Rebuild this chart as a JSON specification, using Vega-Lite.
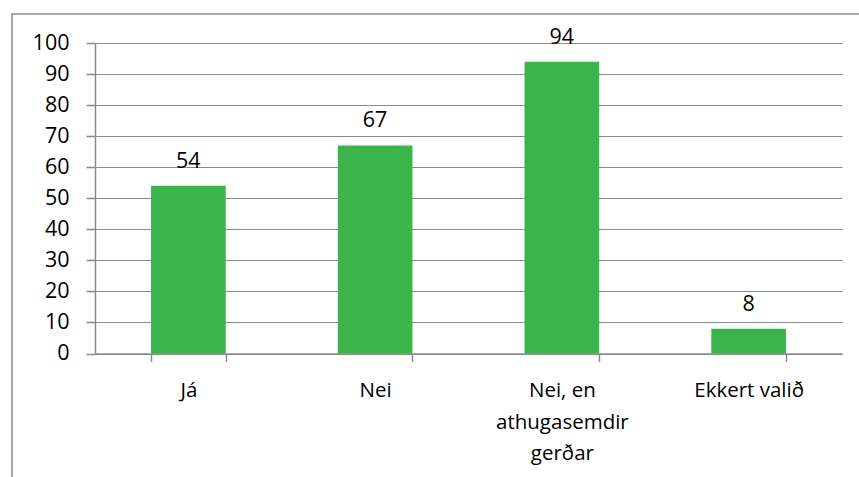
{
  "$schema": "https://vega.github.io/schema/vega-lite/v6.json",
  "autosize": "none",
  "padding": {"left": 12, "top": 14, "right": 0, "bottom": 0},
  "width": 870,
  "height": 480,
  "config": {
    "view": {"stroke": "#8a8a8a", "strokeWidth": 1.5},
    "font": "Open Sans",
    "axis": {
      "domainColor": "#8a8a8a",
      "domainWidth": 1.5,
      "tickColor": "#8a8a8a",
      "tickWidth": 1.5,
      "gridColor": "#8a8a8a",
      "gridWidth": 1,
      "labelColor": "#000000",
      "labelFont": "Open Sans",
      "labelFontSize": 20
    }
  },
  "data": {
    "values": [
      {"answer": "Já", "count": 54},
      {"answer": "Nei", "count": 67},
      {"answer": "Nei, en athugasemdir gerðar", "count": 94},
      {"answer": "Ekkert valið", "count": 8}
    ]
  },
  "encoding": {
    "x": {
      "field": "answer",
      "type": "nominal",
      "sort": null,
      "scale": {"range": [83, 830], "paddingInner": 0.6, "paddingOuter": 0.3},
      "axis": {
        "title": null,
        "orient": "bottom",
        "offset": -140.5,
        "labelAngle": 0,
        "tickBand": "extent",
        "tickSize": 8,
        "grid": false,
        "labelBaseline": "top",
        "labelPadding": 19,
        "labelLineHeight": 31.5,
        "labelFontSize": 20.5,
        "labelLimit": 0,
        "labelExpr": "datum.label == 'Nei, en athugasemdir gerðar' ? ['Nei, en', 'athugasemdir', 'gerðar'] : datum.label"
      }
    },
    "y": {
      "field": "count",
      "type": "quantitative",
      "scale": {"domain": [0, 100], "range": [339.5, 29], "nice": false, "zero": true},
      "axis": {
        "title": null,
        "orient": "left",
        "offset": -83,
        "values": [0, 10, 20, 30, 40, 50, 60, 70, 80, 90, 100],
        "tickSize": 9,
        "labelPadding": 17,
        "labelFontSize": 21.5,
        "grid": true
      }
    }
  },
  "layer": [
    {"mark": {"type": "bar", "color": "#3BB54A"}},
    {
      "mark": {"type": "text", "baseline": "alphabetic", "dy": -18, "fontSize": 21.5, "font": "Open Sans", "color": "#000000"},
      "encoding": {"text": {"field": "count", "type": "quantitative"}}
    }
  ]
}
